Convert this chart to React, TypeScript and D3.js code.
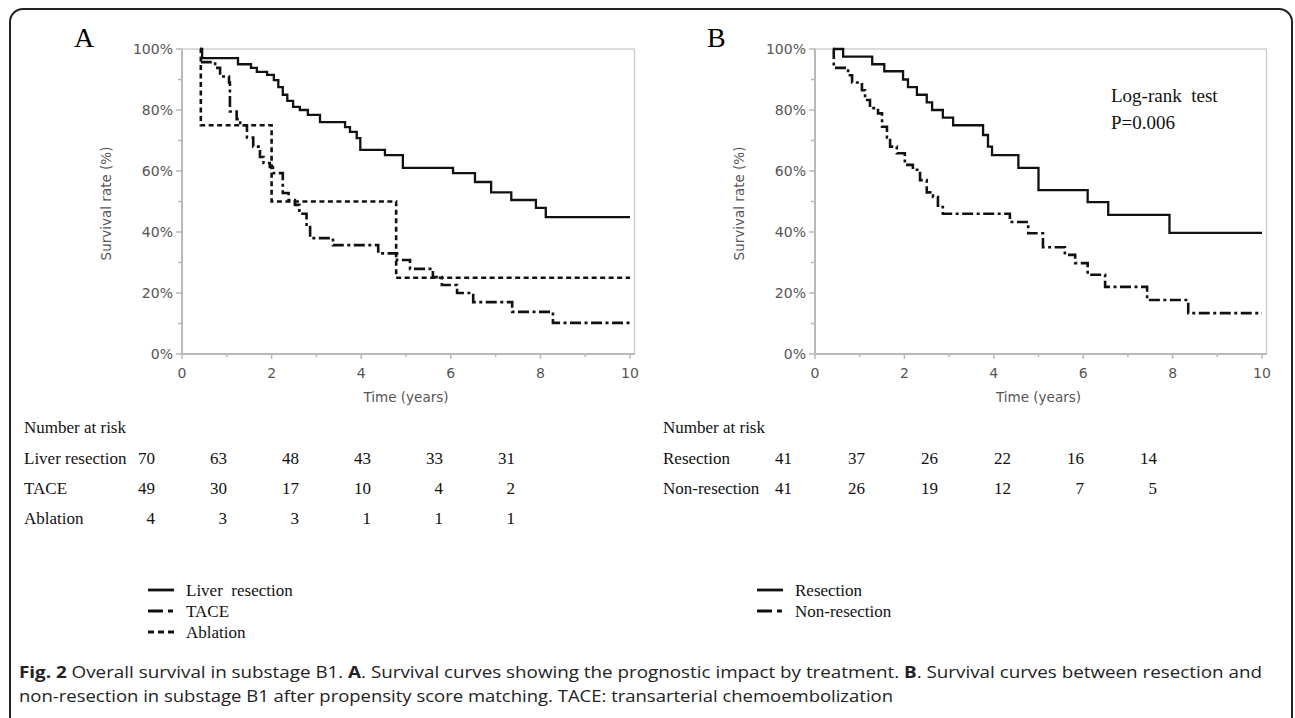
import React from 'react'
import * as d3 from 'd3'

// survival steps: [time in years, survival %]
const liverResection = [
  [0.4, 100], [0.45, 97], [1.25, 95], [1.54, 93.8], [1.67, 92.5], [1.9, 91.5], [2.05, 89.8],
  [2.15, 87.5], [2.25, 85], [2.35, 83], [2.48, 81], [2.63, 80], [2.81, 78.4], [3.08, 76],
  [3.64, 74.4], [3.75, 72.8], [3.9, 70.8], [3.98, 66.9], [4.53, 65.2], [4.93, 61], [6.05, 59.3],
  [6.54, 56.4], [6.9, 53], [7.35, 50.5], [7.9, 47.9], [8.12, 44.9], [10, 44.9],
]
const tace = [
  [0.42, 95.7], [0.74, 93.8], [0.85, 91], [1.05, 89], [1.07, 79.5], [1.22, 77], [1.3, 75],
  [1.45, 71], [1.59, 68], [1.74, 64.6], [1.82, 62.6], [1.96, 61.3], [2.03, 59.3], [2.25, 52.8],
  [2.38, 50.5], [2.52, 48.9], [2.62, 46], [2.78, 41.6], [2.86, 38], [3.37, 35.7], [4.38, 33],
  [4.8, 30.8], [5.09, 27.9], [5.6, 25.2], [5.8, 22.6], [6.14, 20], [6.5, 17], [7.37, 13.8],
  [8.28, 10.2], [10, 10.2],
]
const ablation = [[0.4, 100], [0.42, 75], [2.0, 50], [4.78, 25], [10, 25]]

const resection = [
  [0.4, 100], [0.63, 97.5], [1.28, 95], [1.55, 92.7], [1.97, 90], [2.08, 87.5], [2.28, 85],
  [2.5, 82.5], [2.62, 80], [2.86, 77.5], [3.09, 75], [3.76, 71.8], [3.87, 68], [3.96, 65.2],
  [4.55, 61], [5.0, 53.7], [6.1, 49.8], [6.56, 45.6], [7.93, 39.7], [10, 39.7],
]
const nonResection = [
  [0.4, 100], [0.42, 93.8], [0.74, 91.4], [0.83, 89], [1.05, 86.5], [1.12, 83.3], [1.23, 80.6],
  [1.41, 78.9], [1.5, 74.5], [1.61, 71], [1.68, 68], [1.83, 65.8], [2.01, 62], [2.19, 60.4],
  [2.35, 57], [2.5, 53], [2.64, 51.5], [2.75, 48.2], [2.86, 46], [4.36, 43.3], [4.77, 39.6],
  [5.1, 35], [5.59, 32.5], [5.82, 29.8], [6.1, 26], [6.49, 22], [7.43, 17.7], [8.35, 13.4],
  [10, 13.4],
]

// number at risk
const riskTimes = [0, 2, 4, 6, 8, 10]
const riskLiver = [70, 63, 48, 43, 33, 31]
const riskTace = [49, 30, 17, 10, 4, 2]
const riskAblation = [4, 3, 3, 1, 1, 1]
const riskResection = [41, 37, 26, 22, 16, 14]
const riskNonResection = [41, 26, 19, 12, 7, 5]

const xTicks = [0, 2, 4, 6, 8, 10]
const xMinor = [1, 3, 5, 7, 9]
const yTicks = [0, 20, 40, 60, 80, 100]
const yMinor = [10, 30, 50, 70, 90]

const SOLID = ''
const DASHDOT = '11,3.5,3,3.5'
const DOTTED = '5,3.5'

const serif = '"Liberation Serif", "Times New Roman", serif'
const sans = '"DejaVu Sans", Verdana, sans-serif'

const Panel = ({ left, right, label, series }) => {
  const x = d3.scaleLinear().domain([0, 10]).range([left, right])
  const y = d3.scaleLinear().domain([0, 100]).range([354, 49])
  const line = d3.line().x(d => x(d[0])).y(d => y(d[1])).curve(d3.curveStepAfter)
  const frameRight = x(10.1)
  const axisColor = '#b8b8b8'
  return (
    <g>
      <text x={left - 108} y={47} fontFamily={serif} fontSize={28}>{label}</text>
      <rect x={x(0)} y={y(100)} width={frameRight - x(0)} height={y(0) - y(100)} fill="none" stroke="#cfcfcf" strokeWidth={1.5} />
      <line x1={x(0)} x2={frameRight} y1={y(0)} y2={y(0)} stroke={axisColor} strokeWidth={2} />
      <line x1={x(0)} x2={x(0)} y1={y(0)} y2={y(100)} stroke={axisColor} strokeWidth={2} />
      {yTicks.map(t => (
        <g key={t}>
          <line x1={x(0) - 6} x2={x(0)} y1={y(t)} y2={y(t)} stroke={axisColor} strokeWidth={1.5} />
          <text x={x(0) - 9} y={y(t)} dy="0.35em" textAnchor="end" fontFamily={sans} fontSize={14} fill="#555">{t}%</text>
        </g>
      ))}
      {yMinor.map(t => (
        <line key={t} x1={x(0) - 4} x2={x(0)} y1={y(t)} y2={y(t)} stroke={axisColor} strokeWidth={1.5} />
      ))}
      {xTicks.map(t => (
        <g key={t}>
          <line x1={x(t)} x2={x(t)} y1={y(0)} y2={y(0) + 5} stroke={axisColor} strokeWidth={1.5} />
          <text x={x(t)} y={y(0) + 19} dy="0.35em" textAnchor="middle" fontFamily={sans} fontSize={14} fill="#555">{t}</text>
        </g>
      ))}
      {xMinor.map(t => (
        <line key={t} x1={x(t)} x2={x(t)} y1={y(0)} y2={y(0) + 3} stroke={axisColor} strokeWidth={1.5} />
      ))}
      <text x={(x(0) + x(10)) / 2} y={397} dy="0.35em" textAnchor="middle" fontFamily={sans} fontSize={13.5} fill="#555">Time (years)</text>
      <text transform={`translate(${x(0) - 76},${(y(0) + y(100)) / 2 + 2}) rotate(-90)`} dy="0.35em" textAnchor="middle" fontFamily={sans} fontSize={13.5} fill="#555">Survival rate (%)</text>
      {series.map(s => (
        <path key={s.name} d={line(s.data)} fill="none" stroke="#111" strokeWidth={s.dash ? 2.6 : 2.3} strokeDasharray={s.dash || undefined} />
      ))}
    </g>
  )
}

const RiskTable = ({ left, colFirst, colLast, rows }) => {
  const col = d3.scaleLinear().domain([0, 10]).range([colFirst, colLast])
  const rowY = d3.scaleLinear().domain([0, 1]).range([458, 488])
  return (
    <g fontFamily={serif} fontSize={17} fill="#111">
      <text x={left} y={427} dy="0.35em">Number at risk</text>
      {rows.map((r, i) => (
        <g key={r.name}>
          <text x={left} y={rowY(i)} dy="0.35em">{r.name}</text>
          {r.values.map((v, j) => (
            <text key={j} x={col(riskTimes[j])} y={rowY(i)} dy="0.35em" textAnchor="end">{v}</text>
          ))}
        </g>
      ))}
    </g>
  )
}

const Legend = ({ x0, x1, items }) => {
  const rowY = d3.scaleLinear().domain([0, 1]).range([590, 611])
  return (
    <g fontFamily={serif} fontSize={17} fill="#111">
      {items.map((it, i) => (
        <g key={it.name}>
          <line x1={x0} x2={x1} y1={rowY(i)} y2={rowY(i)} stroke="#111" strokeWidth={2.8}
            strokeDasharray={it.legendDash || undefined} />
          <text x={x1 + 12} y={rowY(i)} dy="0.35em" style={{ whiteSpace: 'pre' }}>{it.legendName || it.name}</text>
        </g>
      ))}
    </g>
  )
}

export default function App() {
  const seriesA = [
    { name: 'Liver resection', legendName: 'Liver  resection', data: liverResection, dash: SOLID, legendDash: '' },
    { name: 'TACE', data: tace, dash: DASHDOT, legendDash: '15,5,5,20' },
    { name: 'Ablation', data: ablation, dash: DOTTED, legendDash: '6,4' },
  ]
  const seriesB = [
    { name: 'Resection', data: resection, dash: SOLID, legendDash: '' },
    { name: 'Non-resection', data: nonResection, dash: DASHDOT, legendDash: '15,5,5,20' },
  ]
  return (
    <svg width={1295} height={718} style={{ position: 'absolute', left: 0, top: 0, background: '#fff' }}>
      <rect x={10} y={9} width={1282} height={740} rx={13} fill="#fff" stroke="#222" strokeWidth={2} />

      <Panel left={182} right={630} label="A" series={seriesA} />
      <Panel left={815} right={1262} label="B" series={seriesB} />

      <text x={1111} y={95} dy="0.35em" fontFamily={serif} fontSize={19} fill="#111" style={{ whiteSpace: 'pre' }}>Log-rank  test</text>
      <text x={1111} y={122} dy="0.35em" fontFamily={serif} fontSize={19} fill="#111">P=0.006</text>

      <RiskTable left={24} colFirst={155} colLast={515} rows={[
        { name: 'Liver resection', values: riskLiver },
        { name: 'TACE', values: riskTace },
        { name: 'Ablation', values: riskAblation },
      ]} />
      <RiskTable left={663} colFirst={792} colLast={1157} rows={[
        { name: 'Resection', values: riskResection },
        { name: 'Non-resection', values: riskNonResection },
      ]} />

      <Legend x0={148} x1={174} items={seriesA} />
      <Legend x0={757} x1={783} items={seriesB} />

      <g fontFamily='"Open Sans", "Noto Sans", sans-serif' fontSize={16} fill="#222">
        <text x={19} y={672} dy="0.35em" textLength={1243} lengthAdjust="spacingAndGlyphs">
          <tspan fontWeight="bold">Fig. 2</tspan> Overall survival in substage B1. <tspan fontWeight="bold">A</tspan>. Survival curves showing the prognostic impact by treatment. <tspan fontWeight="bold">B</tspan>. Survival curves between resection and
        </text>
        <text x={19} y={696} dy="0.35em" textLength={874} lengthAdjust="spacingAndGlyphs">
          non-resection in substage B1 after propensity score matching. TACE: transarterial chemoembolization
        </text>
      </g>
    </svg>
  )
}
